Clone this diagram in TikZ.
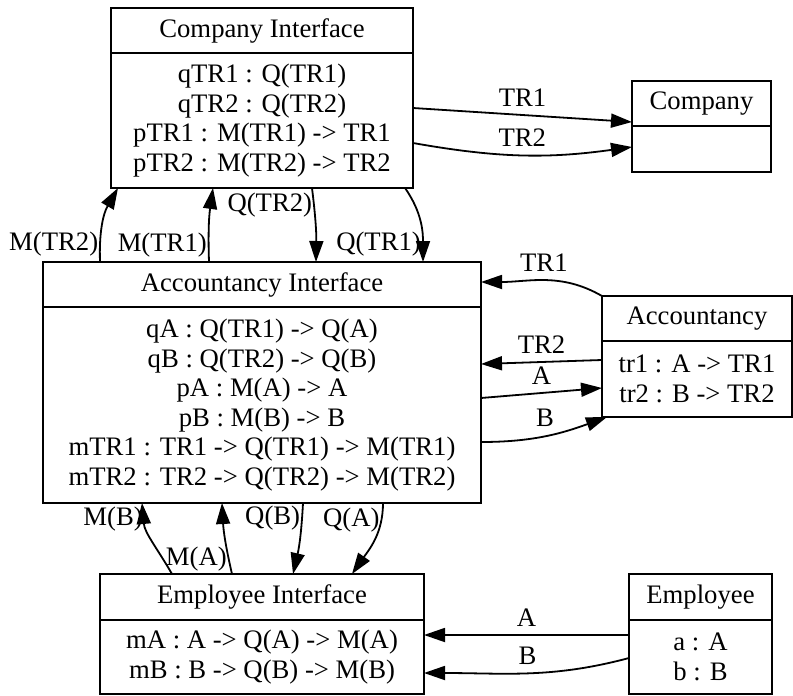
\documentclass[tikz,border=0pt]{standalone}
\usepackage{fontspec}
\setmainfont{Liberation Serif}
\usetikzlibrary{positioning}
\usetikzlibrary{arrows.meta}
\newcommand{\recfont}{\fontsize{26.7}{29.5}\selectfont}

\begin{document}
\begin{tikzpicture}[x=1pt, y=-1pt,
	hd/.style = {draw, line width=1.8pt, inner sep=0pt, outer sep=0pt, minimum height=45pt, font=\recfont},
	bd/.style = {hd, align=center},
	ln/.style = {line width=1.8pt, -{Triangle[length=21pt, width=14pt]}},
	lb/.style = {font=\recfont, inner sep=1pt}]
			\useasboundingbox (0,0) rectangle (793,696);
			
			\node[hd, minimum width=302pt] (CI) at (262,30.5) {Company Interface};
			\node[bd, minimum width=302pt, minimum height=135pt, below = 0pt of CI] (CIb) {qTR1 : Q(TR1)\\qTR2 : Q(TR2)\\pTR1 : M(TR1) -> TR1\\pTR2 : M(TR2) -> TR2};
			\node[hd, minimum width=139pt] (Co) at (701.5,103.5) {Company};
			\node[bd, minimum width=139pt, minimum height=46pt, below = 0pt of Co] (Cob) {};
			
			\node[hd, minimum width=438pt] (AI) at (262,284.5) {Accountancy Interface};
			\node[bd, minimum width=438pt, minimum height=196pt, below = 0pt of AI] (AIb) {qA : Q(TR1) -> Q(A)\\qB : Q(TR2) -> Q(B)\\pA : M(A) -> A\\pB : M(B) -> B\\mTR1 : TR1 -> Q(TR1) -> M(TR1)\\mTR2 : TR2 -> Q(TR2) -> M(TR2)};
			\node[hd, minimum width=190pt] (Ac) at (697,318.5) {Accountancy};
			\node[bd, minimum width=190pt, minimum height=76pt, below = 0pt of Ac] (Acb) {tr1 : A -> TR1\\tr2 : B -> TR2};
			
			\node[hd, minimum width=324pt, minimum height=46pt] (EI) at (262,597) {Employee Interface};
			\node[bd, minimum width=324pt, minimum height=74pt, below = 0pt of EI] (EIb) {mA : A -> Q(A) -> M(A)\\mB : B -> Q(B) -> M(B)};
			\node[hd, minimum width=143pt, minimum height=46pt] (Em) at (700.5,597) {Employee};
			\node[bd, minimum width=143pt, minimum height=74pt, below = 0pt of Em] (Emb) {a : A\\b : B};
			
			\draw[ln] ([yshift=-55pt]CIb.north east) -- node[lb, midway, above=7pt] {TR1} ([yshift=4pt]Cob.north west);
			\draw[ln] ([yshift=-90pt]CIb.north east) to[bend right=9] node[lb, midway, above=7pt] {TR2} ([yshift=-21pt]Cob.north west);
			
			\draw[ln] ([xshift=57pt]AI.north west) to[out=92, in=240] node[lb, pos=0.22, left] {M(TR2)} ([xshift=7pt]CIb.south west);
			\draw[ln] ([xshift=166pt]AI.north west) to[bend left=5] node[lb, pos=0.21, left] {M(TR1)} ([xshift=102pt]CIb.south west);
			\draw[ln] ([xshift=201pt]CIb.south west) to[bend left=4] node[lb, pos=0.22, left] {Q(TR2)} ([xshift=273pt]AI.north west);
			\draw[ln] ([xshift=294pt]CIb.south west) to[out=-55, in=90] node[lb, pos=0.78, left] {Q(TR1)} ([xshift=380pt]AI.north west);
			
			\draw[ln] (Ac.north west) to[out=150, in=0] node[lb, midway, above=7pt] {TR1} ([yshift=-20pt]AI.north east);
			\draw[ln] ([yshift=-19pt]Acb.north west) -- node[lb, midway, above=7pt] {TR2} ([yshift=-102pt]AI.north east);
			\draw[ln] ([yshift=-136pt]AI.north east) -- node[lb, midway, above=7pt] {A} ([yshift=-47pt]Acb.north west);
			\draw[ln] ([yshift=-180pt]AI.north east) to[out=0, in=200] node[lb, midway, above=7pt] {B} ([xshift=5pt]Acb.south west);
			
			\draw[ln] ([xshift=72pt]EI.north west) to[out=120, in=-85] node[lb, pos=0.8, left] {M(B)} ([xshift=99pt]AIb.south west);
			\draw[ln] ([xshift=132pt]EI.north west) to[bend left=5] node[lb, pos=0.2, left] {M(A)} ([xshift=179pt]AIb.south west);
			\draw[ln] ([xshift=260pt]AIb.south west) to[bend left=5] node[lb, pos=0.2, left] {Q(B)} ([xshift=193pt]EI.north west);
			\draw[ln] ([xshift=340pt]AIb.south west) to[out=-90, in=55] node[lb, pos=0.2, left] {Q(A)} ([xshift=252pt]EI.north west);
			
			\draw[ln] ([yshift=-15pt]Emb.north west) -- node[lb, midway, above=7pt] {A} ([yshift=-15pt]EIb.north east);
			\draw[ln] ([yshift=-38pt]Emb.north west) to[out=195, in=0] node[lb, midway, above=7pt] {B} ([yshift=-53pt]EIb.north east);
\end{tikzpicture}
\end{document}
